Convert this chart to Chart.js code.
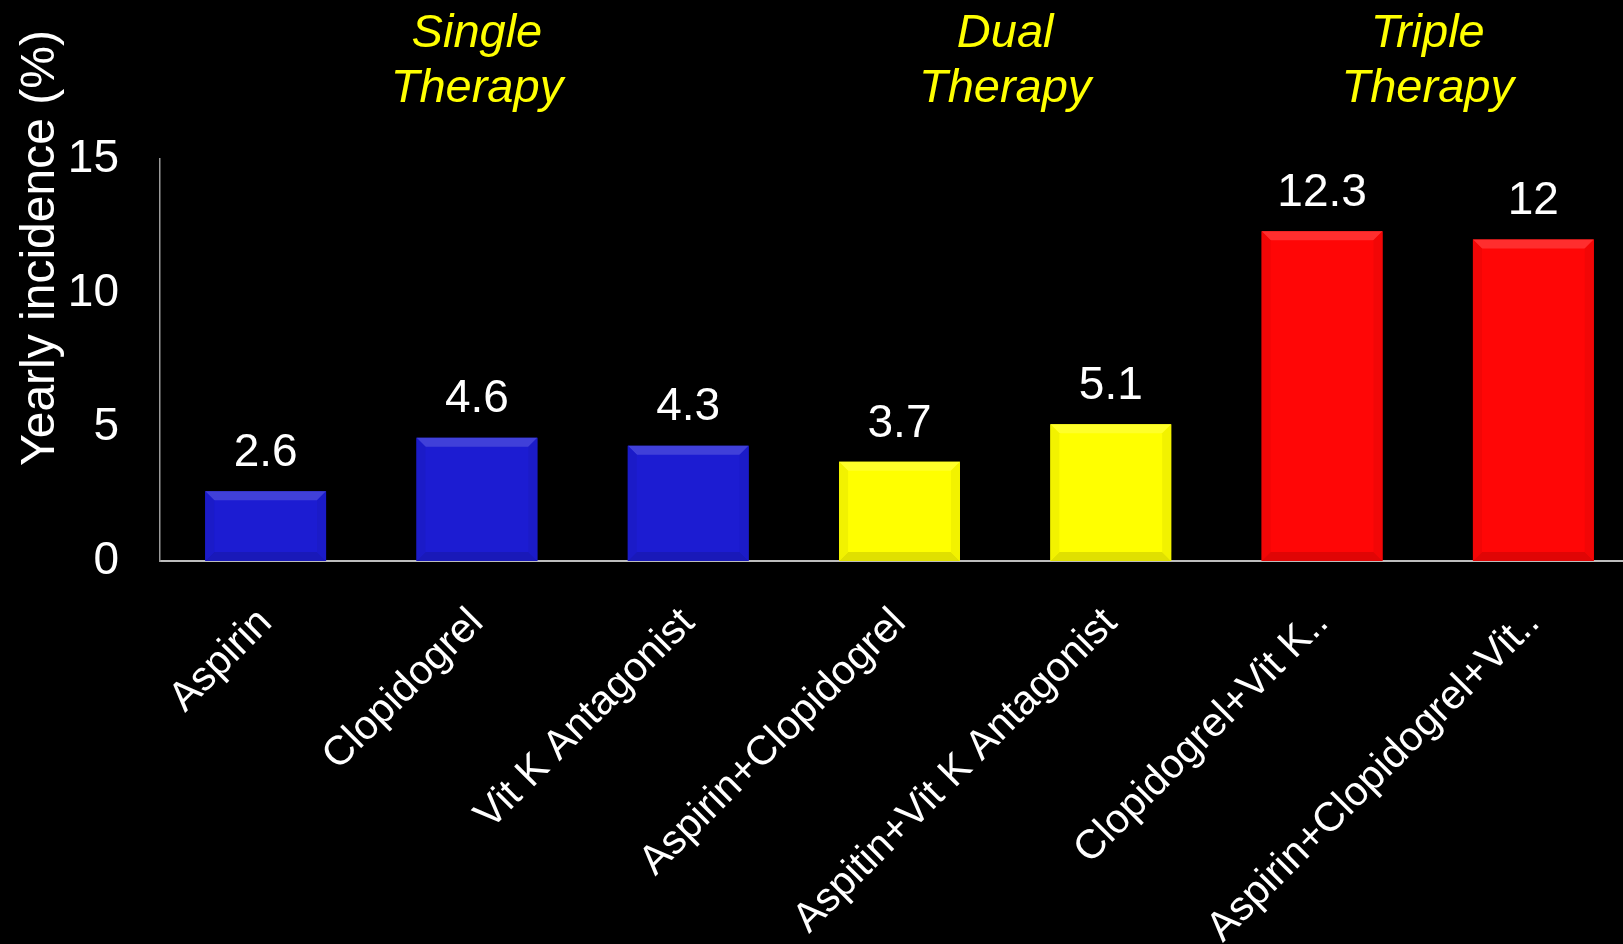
<!DOCTYPE html>
<html>
<head>
<meta charset="utf-8">
<title>Yearly incidence by antithrombotic therapy</title>
<script src="https://cdn.jsdelivr.net/npm/chart.js@4.4.1/dist/chart.umd.min.js"></script>
<style>
  html, body { margin: 0; padding: 0; background: #000; overflow: hidden; }
  #wrap { width: 1640px; height: 944px; }
</style>
</head>
<body>
<div id="wrap"><canvas id="c" width="1640" height="944"></canvas></div>
<script>
// Categories (labels are shown as truncated on the slide)
const categories = [
  'Aspirin',
  'Clopidogrel',
  'Vit K Antagonist',
  'Aspirin+Clopidogrel',
  'Aspitin+Vit K Antagonist',
  'Clopidogrel+Vit K..',
  'Aspirin+Clopidogrel+Vit..'
];
// Yearly incidence (%)
const incidence = [2.6, 4.6, 4.3, 3.7, 5.1, 12.3, 12];
// Therapy group of each category
const therapyOfCategory = ['single', 'single', 'single', 'dual', 'dual', 'triple', 'triple'];
const therapyGroups = ['single', 'dual', 'triple'];
const therapyTitles = [['Single', 'Therapy'], ['Dual', 'Therapy'], ['Triple', 'Therapy']];
const yTicks = [0, 5, 10, 15];

const FONT = '"Liberation Sans", Arial, Helvetica, sans-serif';
const groupColors = { single: '#1c1cd2', dual: '#ffff00', triple: '#ff0606' };

function shade(hex, amt) {
  const n = parseInt(hex.slice(1), 16);
  let r = (n >> 16) & 255, g = (n >> 8) & 255, b = n & 255;
  const f = v => Math.max(0, Math.min(255, Math.round(amt >= 0 ? v + (255 - v) * amt : v * (1 + amt))));
  return `rgb(${f(r)},${f(g)},${f(b)})`;
}

// Bevelled edges on each bar
const bevelPlugin = {
  id: 'bevel',
  afterDatasetsDraw(chart) {
    const ctx = chart.ctx;
    const meta = chart.getDatasetMeta(0);
    meta.data.forEach((bar, i) => {
      const base = groupColors[therapyOfCategory[i]];
      const { x, y, width } = bar.getProps(['x', 'y', 'width'], true);
      const bottom = bar.base;
      const l = x - width / 2, r = x + width / 2;
      const b = 9;
      ctx.save();
      // top face
      ctx.fillStyle = shade(base, 0.16);
      ctx.beginPath();
      ctx.moveTo(l, y); ctx.lineTo(r, y); ctx.lineTo(r - b, y + b); ctx.lineTo(l + b, y + b); ctx.closePath();
      ctx.fill();
      // bottom face
      ctx.fillStyle = shade(base, -0.12);
      ctx.beginPath();
      ctx.moveTo(l, bottom); ctx.lineTo(r, bottom); ctx.lineTo(r - b, bottom - b); ctx.lineTo(l + b, bottom - b); ctx.closePath();
      ctx.fill();
      // side faces
      ctx.fillStyle = shade(base, -0.05);
      ctx.beginPath();
      ctx.moveTo(l, y); ctx.lineTo(l + b, y + b); ctx.lineTo(l + b, bottom - b); ctx.lineTo(l, bottom); ctx.closePath();
      ctx.fill();
      ctx.beginPath();
      ctx.moveTo(r, y); ctx.lineTo(r - b, y + b); ctx.lineTo(r - b, bottom - b); ctx.lineTo(r, bottom); ctx.closePath();
      ctx.fill();
      ctx.restore();
    });
  }
};

// Value labels above bars, group titles and the y-axis title
const annotatePlugin = {
  id: 'annotate',
  afterDraw(chart) {
    const ctx = chart.ctx;
    const xs = chart.scales.x;
    const meta = chart.getDatasetMeta(0);
    ctx.save();
    ctx.fillStyle = '#ffffff';
    ctx.font = `46px ${FONT}`;
    ctx.textAlign = 'center';
    ctx.textBaseline = 'middle';
    meta.data.forEach((bar, i) => {
      ctx.fillText(String(incidence[i]), bar.x, bar.y - 38);
    });

    ctx.fillStyle = '#ffff00';
    ctx.font = `italic 47px ${FONT}`;
    therapyGroups.forEach((g, gi) => {
      const idx = therapyOfCategory.map((t, i) => t === g ? i : -1).filter(i => i >= 0);
      const px = idx.map(i => xs.getPixelForValue(i));
      let cx = (Math.min(...px) + Math.max(...px)) / 2;
      if (idx.length === 3) cx = xs.getPixelForValue(idx[1]);
      ctx.fillText(therapyTitles[gi][0], cx, 34);
      ctx.fillText(therapyTitles[gi][1], cx, 89);
    });

    ctx.fillStyle = '#ffffff';
    ctx.font = `48px ${FONT}`;
    ctx.translate(41, 248);
    ctx.rotate(-Math.PI / 2);
    ctx.fillText('Yearly incidence (%)', 0, 0);
    ctx.restore();
  }
};

new Chart(document.getElementById('c'), {
  type: 'bar',
  data: {
    labels: categories,
    datasets: [{
      data: incidence,
      backgroundColor: therapyOfCategory.map(t => groupColors[t]),
      borderWidth: 0,
      categoryPercentage: 1,
      barPercentage: 0.572
    }]
  },
  options: {
    responsive: false,
    devicePixelRatio: 1,
    animation: false,
    layout: { padding: { top: 159, left: 0, right: 1, bottom: 0 } },
    plugins: { legend: { display: false }, tooltip: { enabled: false } },
    scales: {
      x: {
        grid: { display: false, drawTicks: false },
        border: { display: true, color: '#bdbdbd', width: 2 },
        ticks: {
          color: '#ffffff',
          font: { family: FONT, size: 41 },
          maxRotation: 45,
          minRotation: 45,
          autoSkip: false,
          padding: 38
        },
        afterFit(scale) { scale.height = 383; }
      },
      y: {
        min: 0,
        max: 15,
        afterBuildTicks(scale) { scale.ticks = yTicks.map(v => ({ value: v })); },
        grid: { display: false, drawTicks: false },
        border: { display: true, color: '#9a9a9a', width: 1.5 },
        ticks: {
          color: '#ffffff',
          font: { family: FONT, size: 46 },
          padding: 41
        },
        afterFit(scale) { scale.width = 160; }
      }
    }
  },
  plugins: [bevelPlugin, annotatePlugin]
});
</script>
</body>
</html>
